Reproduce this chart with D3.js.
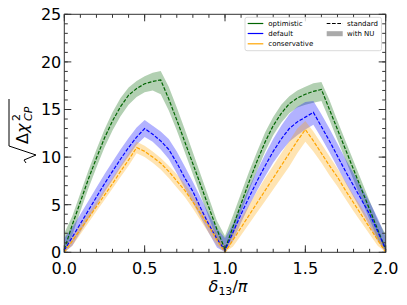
<!DOCTYPE html>
<html>
<head>
<meta charset="utf-8">
<script src="https://cdn.jsdelivr.net/npm/d3@7"></script>
<style>
  body { margin: 0; background: white; }
  text { font-family: "DejaVu Sans", sans-serif; }
</style>
</head>
<body>
<script>
const width = 407;
const height = 305;

// delta_13 / pi grid
const deltaGrid = [0,0.05,0.1,0.15,0.2,0.25,0.3,0.35,0.4,0.45,0.5,0.55,0.6,0.65,0.7,0.75,0.8,0.85,0.9,0.95,1.0,
    1.05,1.1,1.15,1.2,1.25,1.3,1.35,1.4,1.45,1.5,1.55,1.6,1.65,1.7,1.75,1.8,1.85,1.9,1.95,2.0];

// optimistic
const optStd = [0.3,2.9,5.3,7.7,9.9,12.0,13.8,15.3,16.5,17.2,17.7,17.95,18.1,16.1,13.9,11.6,9.3,7.0,4.7,2.4,0.3,
    2.7,5.1,7.4,9.6,11.6,13.3,14.6,15.6,16.2,16.6,16.9,17.1,15.0,12.9,10.8,8.7,6.6,4.5,2.4,0.3];
const optHi = [2.0,3.8,6.2,8.6,10.8,12.9,14.7,16.2,17.3,18.0,18.5,18.85,19.05,17.4,15.2,12.9,10.5,8.1,5.7,3.3,1.7,
    3.9,6.2,8.5,10.6,12.6,14.2,15.5,16.4,17.0,17.4,17.75,17.9,16.0,13.8,11.7,9.6,7.5,5.4,3.4,1.9];
const optLo = [0,1.8,4.3,6.7,8.9,11.0,12.8,14.3,15.5,16.3,16.8,17.0,16.6,14.9,12.8,10.5,8.2,5.9,3.6,1.3,0,
    1.8,4.2,6.5,8.6,10.6,12.3,13.6,14.6,15.2,15.5,15.7,15.9,13.9,11.8,9.7,7.6,5.5,3.4,1.4,0];

// default
const defStd = [0.2,1.6,3.0,4.4,5.8,7.2,8.5,9.8,11.0,12.1,13.0,12.4,11.7,10.8,9.4,7.8,6.4,4.6,2.9,1.4,0.2,
    2.1,4.0,5.8,7.5,9.1,10.6,11.9,13.0,13.7,14.2,14.7,13.2,11.7,10.1,8.5,7.0,5.5,4.0,2.2,0.3];
const defHi = [1.5,2.6,4.0,5.4,6.8,8.2,9.5,10.8,12.0,13.1,13.9,13.3,12.7,11.9,10.6,9.0,7.4,5.7,4.0,2.5,1.5,
    3.0,4.9,6.8,8.6,10.3,11.9,13.3,14.5,15.3,15.8,15.9,14.5,13.0,11.4,9.8,8.3,6.8,5.3,3.6,1.6];
const defLo = [0,0.7,2.1,3.5,4.9,6.3,7.6,8.9,10.1,11.3,12.1,11.6,10.8,9.8,8.3,6.7,5.2,3.6,2.0,0.5,0,
    1.2,3.1,4.9,6.5,8.0,9.4,10.6,11.6,12.3,12.9,13.4,12.0,10.5,8.9,7.3,5.8,4.3,2.8,1.2,0];

// conservative
const conStd = [0,1.2,2.4,3.6,4.8,6.0,7.2,8.5,9.7,11.0,10.6,10.0,9.35,8.5,7.5,6.5,5.3,4.0,2.7,1.3,0,
    1.3,2.6,3.9,5.2,6.5,7.8,9.1,10.4,11.7,12.9,11.7,10.4,9.1,7.9,6.5,5.2,3.9,2.6,1.3,0];
const conHi = [0.4,1.7,2.9,4.1,5.3,6.6,7.8,9.1,10.4,11.6,11.2,10.6,9.9,9.1,8.2,7.2,6.0,4.7,3.3,1.9,0.5,
    2.1,3.6,5.0,6.4,7.8,9.1,10.4,11.7,13.0,13.8,12.7,11.4,10.1,8.8,7.4,6.0,4.7,3.3,1.9,0.5];
const conLo = [0,0.7,1.9,3.1,4.3,5.5,6.7,7.9,9.1,10.4,10.0,9.4,8.7,7.8,6.8,5.8,4.6,3.3,2.0,0.7,0,
    0.6,1.8,3.0,4.2,5.4,6.6,7.8,9.0,10.4,11.6,10.6,9.4,8.1,6.9,5.6,4.3,3.1,1.9,0.7,0];

const xTicks = [0, 0.5, 1.0, 1.5, 2.0];
const yTicks = [0, 5, 10, 15, 20, 25];

const seriesNames = ["optimistic", "default", "conservative"];
const seriesColors = ["#006400", "#0000ff", "#ffa500"];

const plotL = 64.3, plotR = 385.7, plotT = 14.3, plotB = 252.3;

let svg = d3.select("body")
    .append("svg")
    .attr("width", width)
    .attr("height", height);

let x = d3.scaleLinear().domain([0, 2]).range([plotL, plotR]);
let y = d3.scaleLinear().domain([0, 25]).range([plotB, plotT]);

let series = [
    {std: optStd, hi: optHi, lo: optLo},
    {std: defStd, hi: defHi, lo: defLo},
    {std: conStd, hi: conHi, lo: conLo}
];

let area = d3.area()
    .x(d => x(d[0]))
    .y0(d => y(d[1]))
    .y1(d => y(d[2]));

let line = d3.line()
    .x(d => x(d[0]))
    .y(d => y(d[1]));

let plot = svg.append("g").attr("class", "plot");

series.forEach(function(s, i) {
    let pts = deltaGrid.map((d, k) => [d, s.lo[k], s.hi[k]]);
    plot.append("path")
        .attr("d", area(pts))
        .attr("fill", seriesColors[i])
        .attr("fill-opacity", 0.3)
        .attr("stroke", "none");
});

series.forEach(function(s, i) {
    let pts = deltaGrid.map((d, k) => [d, s.std[k]]);
    plot.append("path")
        .attr("d", line(pts))
        .attr("fill", "none")
        .attr("stroke", seriesColors[i])
        .attr("stroke-width", 1.2)
        .attr("stroke-dasharray", "3.7,1.6");
});

// frame
svg.append("rect")
    .attr("x", plotL).attr("y", plotT)
    .attr("width", plotR - plotL).attr("height", plotB - plotT)
    .attr("fill", "none")
    .attr("stroke", "#333")
    .attr("stroke-width", 1);

// ticks, inward on all four sides
let xMinor = d3.range(0, 2.0001, 0.1);
let yMinor = d3.range(0, 25.0001, 1);
let tickCol = "#333";

function xTickMarks(vals, len) {
    vals.forEach(function(v) {
        svg.append("line").attr("x1", x(v)).attr("x2", x(v))
            .attr("y1", plotB).attr("y2", plotB - len).attr("stroke", tickCol);
        svg.append("line").attr("x1", x(v)).attr("x2", x(v))
            .attr("y1", plotT).attr("y2", plotT + len).attr("stroke", tickCol);
    });
}
function yTickMarks(vals, len) {
    vals.forEach(function(v) {
        svg.append("line").attr("x1", plotL).attr("x2", plotL + len)
            .attr("y1", y(v)).attr("y2", y(v)).attr("stroke", tickCol);
        svg.append("line").attr("x1", plotR).attr("x2", plotR - len)
            .attr("y1", y(v)).attr("y2", y(v)).attr("stroke", tickCol);
    });
}
xTickMarks(xMinor, 3.5);
xTickMarks(xTicks, 7);
yTickMarks(yMinor, 3.5);
yTickMarks(yTicks, 7);

svg.selectAll(".xlab")
    .data(xTicks)
    .enter()
    .append("text")
    .attr("class", "xlab")
    .attr("x", d => x(d))
    .attr("y", 274)
    .attr("text-anchor", "middle")
    .style("font-size", "16px")
    .text(d => d3.format(".1f")(d));

svg.selectAll(".ylab")
    .data(yTicks)
    .enter()
    .append("text")
    .attr("class", "ylab")
    .attr("x", plotL - 3)
    .attr("y", d => y(d) + 5.8)
    .attr("text-anchor", "end")
    .style("font-size", "16px")
    .text(d => d);

// x label: delta_13 / pi
let xl = svg.append("text")
    .attr("x", 228)
    .attr("y", 292)
    .attr("text-anchor", "middle")
    .style("font-size", "16px");
xl.append("tspan").style("font-style", "italic").text("δ");
xl.append("tspan").attr("dy", 3).style("font-size", "11px").text("13");
xl.append("tspan").attr("dy", -3).text("/");
xl.append("tspan").style("font-style", "italic").text("π");

// y label: sqrt(Delta chi^2_CP)
let yl = svg.append("g").attr("transform", "translate(28,163) rotate(-90)");
yl.append("path")
    .attr("d", "M0,-2 L3,-4 L8,8 L17,-19 L64,-19")
    .attr("fill", "none")
    .attr("stroke", "black")
    .attr("stroke-width", 1);
yl.append("text").attr("x", 19).attr("y", 0).style("font-size", "16px").text("Δ");
yl.append("text").attr("x", 30).attr("y", 0).style("font-size", "16px").style("font-style", "italic").text("χ");
yl.append("text").attr("x", 42).attr("y", -8).style("font-size", "11px").text("2");
yl.append("text").attr("x", 42).attr("y", 4).style("font-size", "11px").style("font-style", "italic").text("CP");

// legend
let lg = svg.append("g").attr("class", "legend");
lg.append("rect")
    .attr("x", 245).attr("y", 17.3)
    .attr("width", 136.5).attr("height", 33.4)
    .attr("rx", 2)
    .attr("fill", "white").attr("fill-opacity", 0.8)
    .attr("stroke", "#d0d0d0").attr("stroke-width", 0.8);

let rowY = [23.5, 33.5, 43.8];
seriesNames.forEach(function(n, i) {
    lg.append("line")
        .attr("x1", 247.7).attr("x2", 263.3)
        .attr("y1", rowY[i]).attr("y2", rowY[i])
        .attr("stroke", seriesColors[i]).attr("stroke-width", 1.2);
    lg.append("text")
        .attr("x", 268.3).attr("y", rowY[i] + 2.5)
        .style("font-size", "7px")
        .text(n);
});
lg.append("line")
    .attr("x1", 326.7).attr("x2", 342.7)
    .attr("y1", rowY[0]).attr("y2", rowY[0])
    .attr("stroke", "black").attr("stroke-width", 1.2)
    .attr("stroke-dasharray", "3.7,1.6");
lg.append("text").attr("x", 347).attr("y", rowY[0] + 2.5).style("font-size", "7px").text("standard");
lg.append("rect")
    .attr("x", 326.7).attr("y", 31.2)
    .attr("width", 16).attr("height", 5)
    .attr("fill", "#aaaaaa");
lg.append("text").attr("x", 347).attr("y", rowY[1] + 2.5).style("font-size", "7px").text("with NU");
</script>
</body>
</html>
